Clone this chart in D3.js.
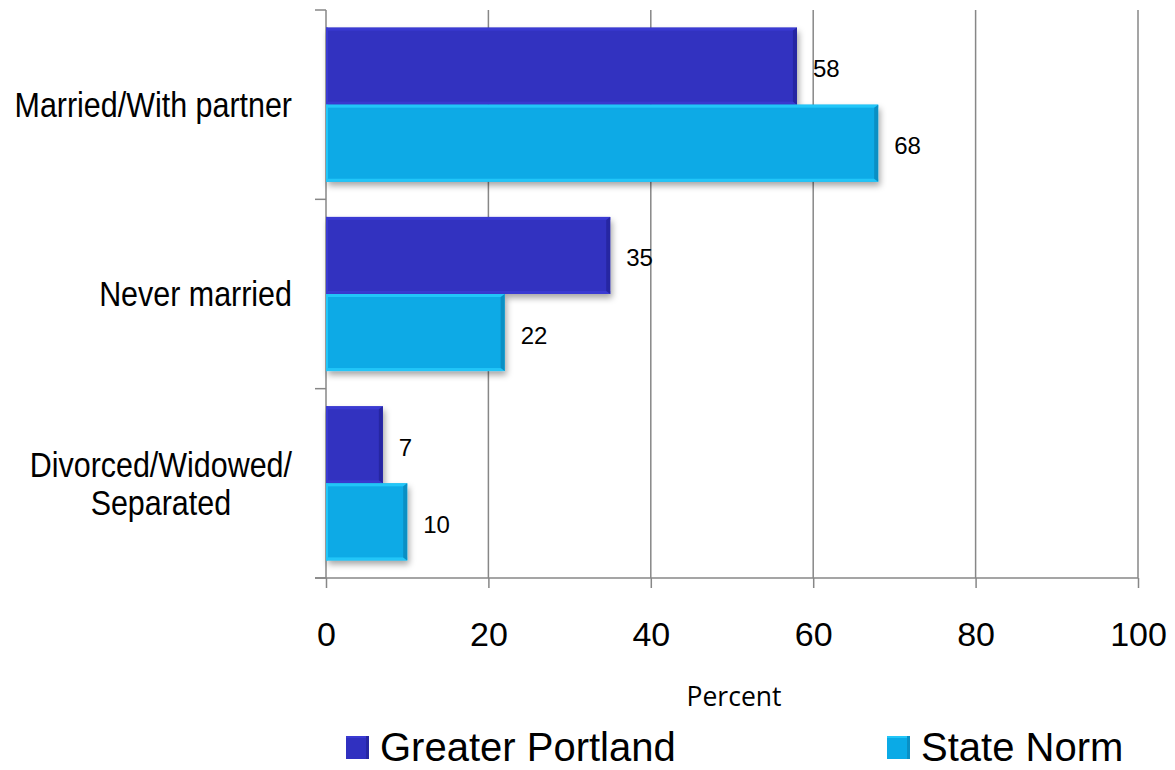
<!DOCTYPE html>
<html>
<head>
<meta charset="utf-8">
<script src="https://cdn.jsdelivr.net/npm/d3@7"></script>
<style>
  html, body { margin: 0; padding: 0; background: #ffffff; }
  svg { display: block; }
</style>
</head>
<body>
<svg id="chart" width="1175" height="770"></svg>
<script>
// Marital status, percent of respondents
const categories = ["Married/With partner", "Never married", "Divorced/Widowed/\nSeparated"];
const seriesNames = ["Greater Portland", "State Norm"];
const greaterPortland = [58, 35, 7];
const stateNorm = [68, 22, 10];
const xTicks = [0, 20, 40, 60, 80, 100];
const xTitle = "Percent";

const seriesValues = [greaterPortland, stateNorm];
const colors = [
  { main: "#3030c0", light: "#3a3ad2", dark: "#2626a2" },
  { main: "#0aaae6", light: "#22c6f8", dark: "#0a8fc4" }
];

const svg = d3.select("#chart");
const plot = { left: 326, right: 1138, top: 10, bottom: 578 };
const gridColor = "#878787";

const x = d3.scaleLinear().domain([0, 100]).range([plot.left, plot.right]);
const y = d3.scaleBand().domain(d3.range(categories.length)).range([plot.top, plot.bottom])
  .paddingInner(0.186).paddingOuter(0.093);
const ySeries = d3.scaleBand().domain(d3.range(seriesNames.length)).range([0, y.bandwidth()]);

// drop shadow for the bars
const defs = svg.append("defs");
const f = defs.append("filter").attr("id", "shadow")
  .attr("x", "-10%").attr("y", "-10%").attr("width", "130%").attr("height", "140%");
f.append("feDropShadow").attr("dx", 2).attr("dy", 4).attr("stdDeviation", 3)
  .attr("flood-color", "#000").attr("flood-opacity", 0.35);

// vertical gridlines
svg.append("g").selectAll("line").data(xTicks.filter(d => d > 0)).join("line")
  .attr("x1", d => x(d)).attr("x2", d => x(d))
  .attr("y1", plot.top).attr("y2", plot.bottom)
  .attr("stroke", gridColor).attr("stroke-width", 1.5);

// bottom axis
const xAxis = d3.axisBottom(x).tickValues(xTicks).tickSize(10).tickFormat(d3.format("d"));
const gx = svg.append("g").attr("transform", `translate(0,${plot.bottom})`).call(xAxis);
gx.select(".domain").remove();
gx.append("line").attr("x1", plot.left - 11).attr("x2", plot.right).attr("y1", 0).attr("y2", 0)
  .attr("stroke", gridColor).attr("stroke-width", 1.5);
gx.selectAll(".tick line").attr("stroke", gridColor).attr("stroke-width", 1.5);
gx.selectAll(".tick text")
  .attr("y", 68).attr("dy", 0)
  .attr("font-family", "'Liberation Sans', Arial, sans-serif")
  .attr("font-size", 34).attr("fill", "#000");

// left axis with category boundary ticks
const gy = svg.append("g");
gy.append("line").attr("x1", plot.left).attr("x2", plot.left)
  .attr("y1", plot.top).attr("y2", plot.bottom)
  .attr("stroke", gridColor).attr("stroke-width", 1.5);
const bounds = d3.range(categories.length + 1).map(i => plot.top + i * y.step());
gy.selectAll("line.tick").data(bounds).join("line").attr("class", "tick")
  .attr("x1", plot.left - 11).attr("x2", plot.left).attr("y1", d => d).attr("y2", d => d)
  .attr("stroke", gridColor).attr("stroke-width", 1.5);

// bars with bevelled edges
const bars = [];
categories.forEach((c, i) => {
  seriesValues.forEach((vals, s) => bars.push({ cat: i, s, v: vals[i] }));
});

const barG = svg.append("g").selectAll("g").data(bars).join("g")
  .attr("transform", d => `translate(${x(0)},${y(d.cat) + ySeries(d.s)})`);

barG.append("rect")
  .attr("width", d => x(d.v) - x(0)).attr("height", ySeries.bandwidth())
  .attr("fill", d => colors[d.s].main).attr("filter", "url(#shadow)");
barG.append("rect") // top edge
  .attr("width", d => x(d.v) - x(0)).attr("height", 3)
  .attr("fill", d => colors[d.s].light);
barG.append("rect") // left edge
  .attr("width", 2).attr("height", ySeries.bandwidth())
  .attr("fill", d => colors[d.s].light);
barG.append("rect") // bottom edge
  .attr("y", ySeries.bandwidth() - 3)
  .attr("width", d => x(d.v) - x(0)).attr("height", 3)
  .attr("fill", d => colors[d.s].light);
barG.append("path") // right edge, mitred into top and bottom
  .attr("d", d => {
    const w = x(d.v) - x(0), h = ySeries.bandwidth();
    return `M${w - 4},3 L${w},0 L${w},${h} L${w - 4},${h - 3} Z`;
  })
  .attr("fill", d => colors[d.s].dark);

// value labels
svg.append("g").selectAll("text").data(bars).join("text")
  .attr("x", d => x(d.v) + 16)
  .attr("y", d => y(d.cat) + ySeries(d.s) + ySeries.bandwidth() / 2 + 11)
  .attr("font-family", "'Liberation Sans', Arial, sans-serif")
  .attr("font-size", 24).attr("fill", "#000")
  .text(d => d.v);

// category labels (condensed, right-aligned block, lines centred)
const labelRight = 292, labelScale = 0.87, labelSize = 35, lineGap = 38;
const catG = svg.append("g");
categories.forEach((c, i) => {
  const lines = c.split("\n");
  const cy = y(i) + y.bandwidth() / 2;
  const g = catG.append("g").attr("transform", `translate(${labelRight},0) scale(${labelScale},1)`);
  const texts = lines.map((ln, k) => g.append("text")
    .attr("y", cy + 12.5 + (k - (lines.length - 1) / 2) * lineGap)
    .attr("font-family", "'Liberation Sans', Arial, sans-serif")
    .attr("font-size", labelSize).attr("fill", "#000")
    .text(ln));
  const widths = texts.map(t => t.node().getComputedTextLength());
  const maxW = d3.max(widths);
  texts.forEach(t => t.attr("x", -maxW / 2).attr("text-anchor", "middle"));
});

// axis title
svg.append("text")
  .attr("x", 734).attr("y", 706)
  .attr("text-anchor", "middle")
  .attr("font-family", "'Open Sans', sans-serif")
  .attr("font-size", 26.5).attr("fill", "#000")
  .text(xTitle);

// legend
const legendX = [346, 887];
const lg = svg.append("g").selectAll("g").data(seriesNames).join("g")
  .attr("transform", (d, i) => `translate(${legendX[i]},736)`);
lg.append("rect").attr("width", 23).attr("height", 23)
  .attr("fill", (d, i) => colors[i].main);
lg.append("rect").attr("width", 23).attr("height", 2).attr("fill", (d, i) => colors[i].light);
lg.append("rect").attr("x", 20).attr("width", 3).attr("height", 23).attr("fill", (d, i) => colors[i].dark);
lg.append("text")
  .attr("x", 34).attr("y", 25)
  .attr("font-family", "'Liberation Sans', Arial, sans-serif")
  .attr("font-size", 40).attr("fill", "#000")
  .text(d => d);
</script>
</body>
</html>
